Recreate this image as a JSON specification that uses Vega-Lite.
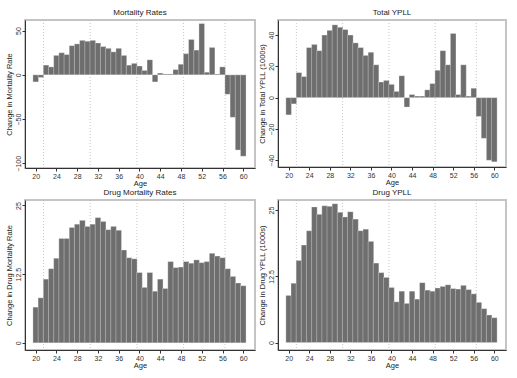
{
  "$schema": "https://vega.github.io/schema/vega-lite/v6.json",
  "padding": {"left": 4, "top": 7, "right": 0, "bottom": 0},
  "background": "white",
  "config": {
    "font": "Liberation Sans",
    "view": {"stroke": "#c4c4c4", "strokeWidth": 2},
    "title": {"fontSize": 8, "fontWeight": "normal", "color": "#222", "offset": 3, "font": "Liberation Sans"},
    "axis": {"labelFont": "Liberation Sans", "titleFont": "Liberation Sans", "labelFontSize": 7, "titleFontSize": 7.5, "titleFontWeight": "normal", "labelColor": "#333", "titleColor": "#222", "domainColor": "#333", "tickColor": "#333", "tickSize": 3, "grid": false, "labelPadding": 1, "titlePadding": 1, "labelOverlap": false, "labelFlush": false, "format": ".1~f"},
    "axisY": {"labelAngle": -90, "labelAlign": "center", "labelBaseline": "bottom", "titlePadding": 1},
    "axisX": {"titlePadding": 0},
    "bar": {"color": "#6e6e6e", "stroke": "white", "strokeWidth": 0.3, "size": 5.6}
  },
  "datasets": {
    "d": [
      {"age": 20, "mort": -8, "ypll": -11, "drugmort": 6.5, "drugypll": 8.9},
      {"age": 21, "mort": -3, "ypll": -4, "drugmort": 8.2, "drugypll": 11.2},
      {"age": 22, "mort": 11, "ypll": 16, "drugmort": 11.6, "drugypll": 15.5},
      {"age": 23, "mort": 9, "ypll": 13.5, "drugmort": 13.5, "drugypll": 18.4},
      {"age": 24, "mort": 22, "ypll": 32, "drugmort": 15.4, "drugypll": 21.1},
      {"age": 25, "mort": 25, "ypll": 34, "drugmort": 19.0, "drugypll": 25.6},
      {"age": 26, "mort": 23, "ypll": 30, "drugmort": 19.0, "drugypll": 24.2},
      {"age": 27, "mort": 33, "ypll": 40, "drugmort": 21.0, "drugypll": 25.8},
      {"age": 28, "mort": 35, "ypll": 43, "drugmort": 21.6, "drugypll": 25.7},
      {"age": 29, "mort": 39, "ypll": 46.5, "drugmort": 22.3, "drugypll": 26.2},
      {"age": 30, "mort": 38, "ypll": 45, "drugmort": 21.2, "drugypll": 24.6},
      {"age": 31, "mort": 39, "ypll": 43.5, "drugmort": 21.6, "drugypll": 23.7},
      {"age": 32, "mort": 36, "ypll": 40, "drugmort": 22.8, "drugypll": 24.7},
      {"age": 33, "mort": 32, "ypll": 35, "drugmort": 22.1, "drugypll": 23.3},
      {"age": 34, "mort": 30, "ypll": 32, "drugmort": 20.6, "drugypll": 21.1},
      {"age": 35, "mort": 26, "ypll": 27, "drugmort": 21.2, "drugypll": 21.4},
      {"age": 36, "mort": 30, "ypll": 29, "drugmort": 20.5, "drugypll": 19.1},
      {"age": 37, "mort": 22, "ypll": 21, "drugmort": 16.9, "drugypll": 15.0},
      {"age": 38, "mort": 11, "ypll": 10, "drugmort": 15.5, "drugypll": 13.2},
      {"age": 39, "mort": 13, "ypll": 11, "drugmort": 15.3, "drugypll": 12.3},
      {"age": 40, "mort": 10, "ypll": 8.5, "drugmort": 12.8, "drugypll": 10.4},
      {"age": 41, "mort": 5, "ypll": 4, "drugmort": 10.1, "drugypll": 7.7},
      {"age": 42, "mort": 17, "ypll": 14, "drugmort": 12.8, "drugypll": 9.7},
      {"age": 43, "mort": -8, "ypll": -6, "drugmort": 9.4, "drugypll": 7.4},
      {"age": 44, "mort": 2, "ypll": 2, "drugmort": 11.6, "drugypll": 9.7},
      {"age": 45, "mort": 1, "ypll": 1, "drugmort": 9.9, "drugypll": 8.2},
      {"age": 46, "mort": 1, "ypll": 1, "drugmort": 14.8, "drugypll": 11.3},
      {"age": 47, "mort": 6, "ypll": 5, "drugmort": 13.7, "drugypll": 9.9},
      {"age": 48, "mort": 12, "ypll": 9, "drugmort": 13.8, "drugypll": 9.7},
      {"age": 49, "mort": 24, "ypll": 17.5, "drugmort": 14.8, "drugypll": 10.3},
      {"age": 50, "mort": 40, "ypll": 30, "drugmort": 14.5, "drugypll": 10.6},
      {"age": 51, "mort": 28, "ypll": 21, "drugmort": 15.1, "drugypll": 10.9},
      {"age": 52, "mort": 58, "ypll": 41, "drugmort": 14.6, "drugypll": 10.2},
      {"age": 53, "mort": 3, "ypll": 2, "drugmort": 14.8, "drugypll": 10.1},
      {"age": 54, "mort": 31, "ypll": 21, "drugmort": 16.3, "drugypll": 10.8},
      {"age": 55, "mort": 1, "ypll": 1, "drugmort": 15.8, "drugypll": 10.0},
      {"age": 56, "mort": 9, "ypll": 6, "drugmort": 15.5, "drugypll": 9.2},
      {"age": 57, "mort": -22, "ypll": -12, "drugmort": 13.5, "drugypll": 7.6},
      {"age": 58, "mort": -48, "ypll": -26, "drugmort": 12.1, "drugypll": 6.4},
      {"age": 59, "mort": -85, "ypll": -40, "drugmort": 10.9, "drugypll": 5.2},
      {"age": 60, "mort": -92, "ypll": -41, "drugmort": 10.4, "drugypll": 4.7}
    ],
    "lines": [{"age": 21.5}, {"age": 30.5}, {"age": 39.5}, {"age": 48.5}, {"age": 56.5}]
  },
  "columns": 2,
  "bounds": "flush",
  "spacing": {"row": 32, "column": 23},
  "concat": [
    {
      "title": "Mortality Rates",
      "width": 230, "height": 148,
      "encoding": {"x": {"field": "age", "type": "quantitative", "title": "Age", "scale": {"domain": [18.9, 61.3], "nice": false, "zero": false}, "axis": {"values": [20,24,28,32,36,40,44,48,52,56,60], "labelOverlap": false}}},
      "layer": [
        {"data": {"name": "lines"}, "mark": {"type": "rule", "color": "#b8b8b8", "strokeDash": [1, 2], "strokeWidth": 0.8}},
        {"data": {"name": "d"}, "mark": "bar",
         "encoding": {
           "y": {"field": "mort", "type": "quantitative", "title": "Change in Mortality Rate", "scale": {"domain": [-105.3, 62], "nice": false, "zero": false}, "axis": {"values": [-100, -50, 0, 50], "labelOverlap": false}}
         }}
      ]
    },
    {
      "title": "Total YPLL",
      "width": 228, "height": 147,
      "encoding": {"x": {"field": "age", "type": "quantitative", "title": "Age", "scale": {"domain": [18.9, 61.3], "nice": false, "zero": false}, "axis": {"values": [20,24,28,32,36,40,44,48,52,56,60], "labelOverlap": false}}},
      "layer": [
        {"data": {"name": "lines"}, "mark": {"type": "rule", "color": "#b8b8b8", "strokeDash": [1, 2], "strokeWidth": 0.8}},
        {"data": {"name": "d"}, "mark": "bar",
         "encoding": {
           "y": {"field": "ypll", "type": "quantitative", "title": "Change in Total YPLL (1000s)", "scale": {"domain": [-44.3, 49.6], "nice": false, "zero": false}, "axis": {"values": [-40, -20, 0, 20, 40], "labelOverlap": false}}
         }}
      ]
    },
    {
      "title": "Drug Mortality Rates",
      "width": 230, "height": 150,
      "encoding": {"x": {"field": "age", "type": "quantitative", "title": "Age", "scale": {"domain": [18.9, 61.3], "nice": false, "zero": false}, "axis": {"values": [20,24,28,32,36,40,44,48,52,56,60], "labelOverlap": false}}},
      "layer": [
        {"data": {"name": "lines"}, "mark": {"type": "rule", "color": "#b8b8b8", "strokeDash": [1, 2], "strokeWidth": 0.8}},
        {"data": {"name": "d"}, "mark": "bar",
         "encoding": {
           "y": {"field": "drugmort", "type": "quantitative", "title": "Change in Drug Mortality Rate", "scale": {"domain": [-1.3, 26], "nice": false, "zero": false}, "axis": {"values": [0, 12.5, 25], "labelOverlap": false}}
         }}
      ]
    },
    {
      "title": "Drug YPLL",
      "width": 228, "height": 150,
      "encoding": {"x": {"field": "age", "type": "quantitative", "title": "Age", "scale": {"domain": [18.9, 61.3], "nice": false, "zero": false}, "axis": {"values": [20,24,28,32,36,40,44,48,52,56,60], "labelOverlap": false}}},
      "layer": [
        {"data": {"name": "lines"}, "mark": {"type": "rule", "color": "#b8b8b8", "strokeDash": [1, 2], "strokeWidth": 0.8}},
        {"data": {"name": "d"}, "mark": "bar",
         "encoding": {
           "y": {"field": "drugypll", "type": "quantitative", "title": "Change in Drug YPLL (1000s)", "scale": {"domain": [-1.4, 26.9], "nice": false, "zero": false}, "axis": {"values": [0, 12.5, 25], "labelOverlap": false}}
         }}
      ]
    }
  ]
}
